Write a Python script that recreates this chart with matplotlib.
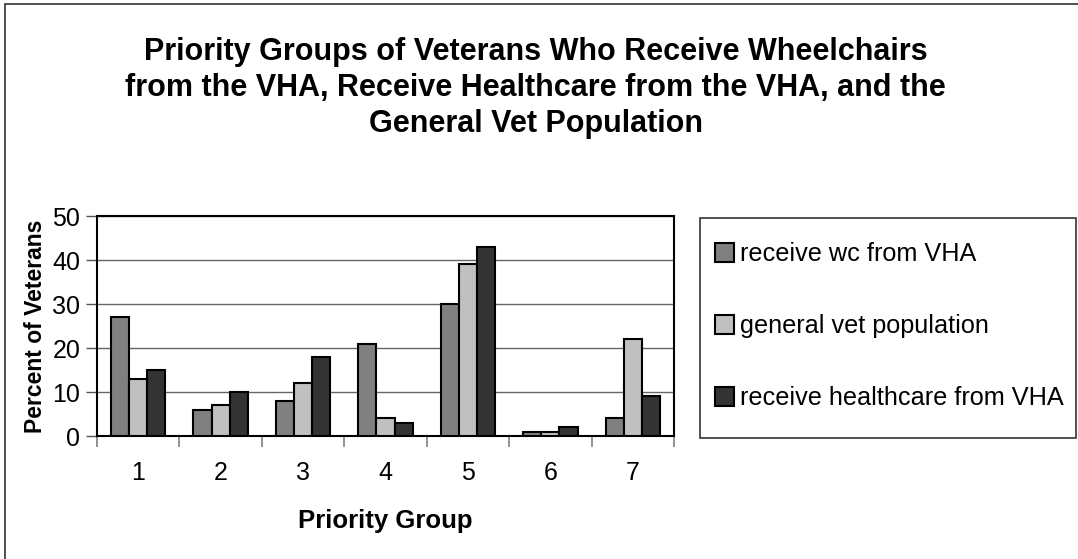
import numpy as np
import matplotlib
matplotlib.use("Agg")
import matplotlib.pyplot as plt
from matplotlib.patches import Rectangle

plt.rcParams['font.family'] = ['Liberation Sans', 'DejaVu Sans']

# data
groups = ["1", "2", "3", "4", "5", "6", "7"]
wc_vha = [27, 6, 8, 21, 30, 1, 4]
general_pop = [13, 7, 12, 4, 39, 1, 22]
health_vha = [15, 10, 18, 3, 43, 2, 9]
series_names = ["receive wc from VHA", "general vet population", "receive healthcare from VHA"]
series_colors = ["#808080", "#c0c0c0", "#333333"]

title = ("Priority Groups of Veterans Who Receive Wheelchairs\n"
         "from the VHA, Receive Healthcare from the VHA, and the\n"
         "General Vet Population")

W, H = 1078, 559
fig = plt.figure(figsize=(W / 100, H / 100), dpi=100)
fig.patch.set_facecolor("white")

# outer chart frame (only left and top edges fall inside the picture)
fig.add_artist(Rectangle((5 / W, -0.2), 1.3, 1.2 - 4 / H, transform=fig.transFigure,
                         fill=False, edgecolor="#333333", linewidth=1.2, clip_on=False))

ax = fig.add_axes([97 / W, 1 - 436 / H, (674 - 97) / W, (436 - 216) / H])

x = np.arange(1, len(groups) + 1)
width = 0.22
for k, (vals, name, col) in enumerate(zip([wc_vha, general_pop, health_vha], series_names, series_colors)):
    ax.bar(x + (k - 1) * width, vals, width, color=col, edgecolor="black",
           linewidth=1.5, label=name, zorder=3)

ax.set_xlim(0.5, len(groups) + 0.5)
ax.set_ylim(0, 50)
ax.set_yticks(range(0, 51, 10))
ax.yaxis.grid(True, color="#666666", linewidth=1, zorder=0)
ax.set_axisbelow(True)

ax.set_xticks(x)
ax.set_xticklabels(groups)
ax.set_xticks(np.arange(0.5, len(groups) + 1), minor=True)
ax.tick_params(axis="x", which="major", length=0, labelsize=18, pad=18)
ax.tick_params(axis="x", which="minor", length=8, width=1.2, color="#808080")
ax.tick_params(axis="y", length=8, width=1, color="#555555", labelsize=18, pad=4)

for s in ax.spines.values():
    s.set_color("black")
    s.set_linewidth(1.5)

ax.set_xlabel("Priority Group", fontsize=18.5, fontweight="bold", labelpad=17)
ax.set_ylabel("Percent of Veterans", fontsize=16.5, fontweight="bold", labelpad=4)

fig.text(0.497, 1 - 37 / H, title, ha="center", va="top", fontsize=22,
         fontweight="bold", linespacing=1.27)

# legend box drawn separately so its size matches the reference
fig.add_artist(Rectangle((700 / W, 1 - 438 / H), (1076 - 700) / W, (438 - 218) / H,
                         transform=fig.transFigure, fill=False, edgecolor="#333333",
                         linewidth=1.2))
leg = fig.legend(loc="upper left", bbox_to_anchor=(700 / W, 1 - 227 / H),
                 fontsize=18.2, frameon=False, labelspacing=1.9, borderpad=0.6,
                 handlelength=0.75, handleheight=0.75, handletextpad=0.25,
                 borderaxespad=0)

fig.savefig("out.png", dpi=100, facecolor="white")
